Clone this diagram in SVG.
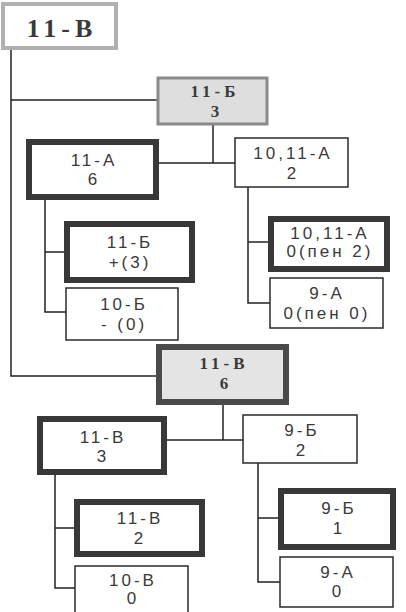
<svg xmlns="http://www.w3.org/2000/svg" width="406" height="612" viewBox="0 0 406 612">
<style>
.thin{fill:#fff;stroke:#2a2a2a;stroke-width:1.5}
.thick{fill:#fff;stroke:#383838;stroke-width:6}
.grey{fill:#dedede;stroke:#8a8a8a;stroke-width:3}
.greythick{fill:#e4e4e4;stroke:#4a4a4a;stroke-width:6}
.top{fill:#fff;stroke:#b0b0b0;stroke-width:4}
.t{font-family:"Liberation Sans",Arial,sans-serif;font-size:17px;letter-spacing:3px;fill:#3a3a3a;text-anchor:middle}
.b{font-family:"Liberation Serif","Times New Roman",serif;font-weight:bold;fill:#3a3a3a;text-anchor:middle}
.c{fill:none;stroke:#222;stroke-width:1.5}
</style>
<g id="connectors">
<path class="c" d="M11 50 V376 H158"/>
<path class="c" d="M11 100 H157"/>
<path class="c" d="M213 125 V163"/>
<path class="c" d="M157 163 H235"/>
<path class="c" d="M45 198 V312 H66"/>
<path class="c" d="M45 252 H66"/>
<path class="c" d="M248 187 V303 H270"/>
<path class="c" d="M248 242 H270"/>
<path class="c" d="M223 403 V440"/>
<path class="c" d="M165 440 H243"/>
<path class="c" d="M55 473 V588 H75"/>
<path class="c" d="M55 528 H75"/>
<path class="c" d="M258 463 V582 H280"/>
<path class="c" d="M258 518 H280"/>
</g>
<g id="n0"><rect class="top" x="3" y="4" width="113" height="44"/><text class="b" x="62" y="37" font-size="26" letter-spacing="5">11-В</text></g>
<g id="n1"><rect class="grey" x="158" y="78" width="109" height="46"/><text class="b" x="215" y="97" font-size="17" letter-spacing="4">11-Б</text><text class="b" x="215" y="117" font-size="17">3</text></g>
<g id="n2"><rect class="thick" x="29" y="142" width="127" height="55"/><text class="t" x="94" y="166">11-А</text><text class="t" x="94" y="185">6</text></g>
<g id="n3"><rect class="thin" x="235" y="138" width="113" height="49"/><text class="t" x="293" y="159">10,11-А</text><text class="t" x="293" y="179">2</text></g>
<g id="n4"><rect class="thick" x="67" y="224" width="125" height="56"/><text class="t" x="130" y="248">11-Б</text><text class="t" x="130" y="268">+(3)</text></g>
<g id="n5"><rect class="thin" x="66" y="288" width="112" height="52"/><text class="t" x="124" y="310">10-Б</text><text class="t" x="124" y="330">- (0)</text></g>
<g id="n6"><rect class="thick" x="271" y="219" width="116" height="50"/><text class="t" x="330" y="239">10,11-А</text><text class="t" x="330" y="257">0(пен 2)</text></g>
<g id="n7"><rect class="thin" x="270" y="278" width="113" height="50"/><text class="t" x="327" y="299">9-А</text><text class="t" x="327" y="319">0(пен 0)</text></g>
<g id="n8"><rect class="greythick" x="159" y="347" width="127" height="55"/><text class="b" x="224" y="369" font-size="17" letter-spacing="4">11-В</text><text class="b" x="224" y="389" font-size="17">6</text></g>
<g id="n9"><rect class="thick" x="40" y="419" width="124" height="53"/><text class="t" x="103" y="443">11-В</text><text class="t" x="103" y="462">3</text></g>
<g id="n10"><rect class="thin" x="243" y="415" width="114" height="48"/><text class="t" x="302" y="436">9-Б</text><text class="t" x="302" y="456">2</text></g>
<g id="n11"><rect class="thick" x="77" y="502" width="125" height="52"/><text class="t" x="140" y="524">11-В</text><text class="t" x="140" y="544">2</text></g>
<g id="n12"><rect class="thin" x="75" y="566" width="113" height="48"/><text class="t" x="133" y="586">10-В</text><text class="t" x="133" y="604">0</text></g>
<g id="n13"><rect class="thick" x="281" y="491" width="112" height="56"/><text class="t" x="339" y="514">9-Б</text><text class="t" x="339" y="534">1</text></g>
<g id="n14"><rect class="thin" x="280" y="557" width="113" height="50"/><text class="t" x="338" y="578">9-А</text><text class="t" x="338" y="597">0</text></g>
</svg>
